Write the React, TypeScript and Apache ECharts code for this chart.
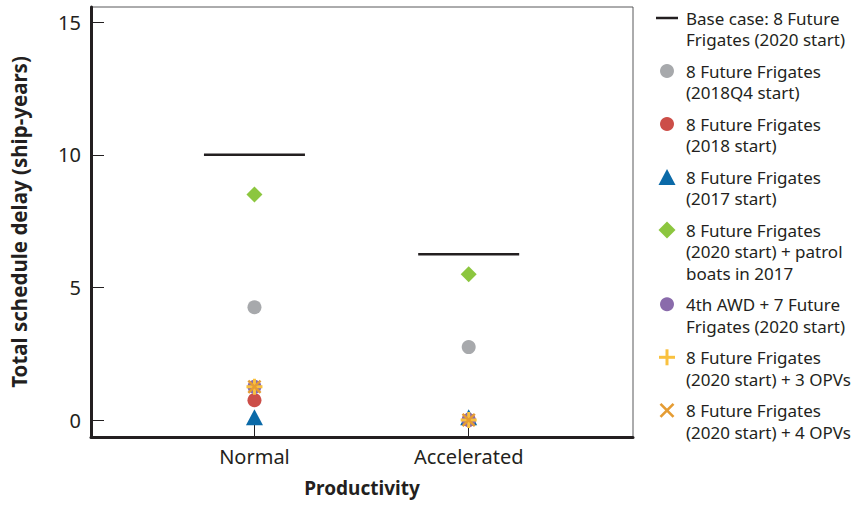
import React, { useEffect, useRef } from 'react';
import * as echarts from 'echarts';

// ---- data ----
const categories = ['Normal', 'Accelerated'];
const categoryPositions = [1, 2];
const yTickValues = [0, 5, 10, 15];

const baseCase = [10, 6.25];
const frigates2018Q4 = [4.25, 2.75];
const frigates2018 = [0.75, 0];
const frigates2017 = [0.1, 0.1];
const frigatesPatrol = [8.5, 5.5];
const awdFrigates = [1.25, 0];
const frigates3Opv = [1.25, 0];
const frigates4Opv = [1.25, 0];

const seriesLabels = [
  'Base case: 8 Future\nFrigates (2020 start)',
  '8 Future Frigates\n(2018Q4 start)',
  '8 Future Frigates\n(2018 start)',
  '8 Future Frigates\n(2017 start)',
  '8 Future Frigates\n(2020 start) + patrol\nboats in 2017',
  '4th AWD + 7 Future\nFrigates (2020 start)',
  '8 Future Frigates\n(2020 start) + 3 OPVs',
  '8 Future Frigates\n(2020 start) + 4 OPVs',
];
const seriesValues = [
  baseCase,
  frigates2018Q4,
  frigates2018,
  frigates2017,
  frigatesPatrol,
  awdFrigates,
  frigates3Opv,
  frigates4Opv,
];
const seriesColors = [
  '#231f20',
  '#a7a9ac',
  '#cc4e48',
  '#0b6aa8',
  '#8cc63f',
  '#8a6bab',
  '#f9c13f',
  '#e59c33',
];

const PLUS_PATH = 'path://M6.5,0H9.5V6.5H16V9.5H9.5V16H6.5V9.5H0V6.5H6.5Z';
const X_PATH = 'path://M0,2L2,0L8,6L14,0L16,2L10,8L16,14L14,16L8,10L2,16L0,14L6,8Z';

const seriesSymbols: any[] = ['rect', 'circle', 'circle', 'triangle', 'diamond', 'circle', PLUS_PATH, X_PATH];
const seriesSymbolSizes: any[] = [[101, 2.5], 14, 14, [17, 16], [16, 16], 14, 16, 14];

const TEXT_COLOR = '#231f20';
const FONT = '"Noto Sans", "Open Sans", sans-serif';

function legendIcon(i: number, cx: number, cy: number): any {
  const color = seriesColors[i];
  switch (i) {
    case 0:
      return { type: 'line', shape: { x1: cx - 11, y1: cy, x2: cx + 11, y2: cy }, style: { stroke: color, lineWidth: 2.5 } };
    case 3:
      return { type: 'polygon', shape: { points: [[cx, cy - 8], [cx + 8.5, cy + 8], [cx - 8.5, cy + 8]] }, style: { fill: color } };
    case 4:
      return { type: 'polygon', shape: { points: [[cx, cy - 8.5], [cx + 8.5, cy], [cx, cy + 8.5], [cx - 8.5, cy]] }, style: { fill: color } };
    case 6:
      return {
        type: 'group',
        children: [
          { type: 'line', shape: { x1: cx - 8, y1: cy, x2: cx + 8, y2: cy }, style: { stroke: color, lineWidth: 3 } },
          { type: 'line', shape: { x1: cx, y1: cy - 8, x2: cx, y2: cy + 8 }, style: { stroke: color, lineWidth: 3 } },
        ],
      };
    case 7:
      return {
        type: 'group',
        children: [
          { type: 'line', shape: { x1: cx - 6.5, y1: cy - 6.5, x2: cx + 6.5, y2: cy + 6.5 }, style: { stroke: color, lineWidth: 2.6 } },
          { type: 'line', shape: { x1: cx - 6.5, y1: cy + 6.5, x2: cx + 6.5, y2: cy - 6.5 }, style: { stroke: color, lineWidth: 2.6 } },
        ],
      };
    default:
      return { type: 'circle', shape: { cx, cy, r: 7 }, style: { fill: color } };
  }
}

export default function App() {
  const ref = useRef<HTMLDivElement>(null);

  useEffect(() => {
    if (!ref.current) return;
    const chart = echarts.init(ref.current, null, { renderer: 'svg' });

    const lineH = 21.3;
    const itemGap = 10.4;
    const iconX = 667;
    const textX = 686;
    let y = 18;
    const legendGraphics: any[] = [];
    seriesLabels.forEach((label, i) => {
      const nLines = label.split('\n').length;
      legendGraphics.push(legendIcon(i, iconX, y));
      legendGraphics.push({
        type: 'text',
        x: textX,
        y: y - lineH / 2 + 0.5,
        style: {
          text: label,
          fill: TEXT_COLOR,
          font: `17px ${FONT}`,
          lineHeight: lineH,
          verticalAlign: 'top',
          align: 'left',
        },
      });
      y += nLines * lineH + itemGap;
    });

    const series = seriesLabels.map((label, i) => ({
      type: 'scatter',
      name: label.replace(/\n/g, ' '),
      symbol: seriesSymbols[i],
      symbolSize: seriesSymbolSizes[i],
      itemStyle: { color: seriesColors[i], opacity: 1 },
      z: 2 + i,
      data: seriesValues[i].map((v, k) => [categoryPositions[k], v]),
    }));

    chart.setOption({
      animation: false,
      textStyle: { fontFamily: FONT, color: TEXT_COLOR },
      grid: {
        left: 90,
        right: 225,
        top: 7,
        bottom: 68,
        show: true,
        borderColor: '#58595b',
        borderWidth: 1,
        backgroundColor: 'transparent',
      },
      xAxis: {
        type: 'value',
        min: 0.237,
        max: 2.767,
        name: 'Productivity',
        nameLocation: 'middle',
        nameGap: 41,
        nameTextStyle: { fontFamily: FONT, fontWeight: 'bold', fontSize: 19, color: TEXT_COLOR },
        axisLine: { show: true, onZero: false, lineStyle: { color: TEXT_COLOR, width: 3 } },
        axisTick: { show: true, inside: true, length: 12, customValues: categoryPositions, lineStyle: { color: TEXT_COLOR, width: 1 } },
        axisLabel: {
          customValues: categoryPositions,
          formatter: (v: number) => {
            const idx = categoryPositions.indexOf(Math.round(v));
            return idx >= 0 ? categories[idx] : '';
          },
          fontSize: 20,
          color: TEXT_COLOR,
          fontFamily: FONT,
          margin: 9,
        },
        splitLine: { show: false },
      },
      yAxis: {
        type: 'value',
        min: -0.64,
        max: 15.57,
        name: 'Total schedule delay (ship-years)',
        nameLocation: 'middle',
        nameGap: 62,
        nameTextStyle: { fontFamily: FONT, fontWeight: 'bold', fontSize: 20.5, color: TEXT_COLOR },
        axisLine: { show: true, onZero: false, lineStyle: { color: TEXT_COLOR, width: 3 } },
        axisTick: { show: true, inside: true, length: 13, customValues: yTickValues, lineStyle: { color: TEXT_COLOR, width: 1 } },
        axisLabel: {
          customValues: yTickValues,
          fontSize: 20,
          color: TEXT_COLOR,
          fontFamily: FONT,
          margin: 10,
        },
        splitLine: { show: false },
      },
      series,
      graphic: legendGraphics,
    });

    return () => chart.dispose();
  }, []);

  return <div ref={ref} style={{ width: 858, height: 505, position: 'absolute', left: 0, top: 0, background: '#fff' }} />;
}
